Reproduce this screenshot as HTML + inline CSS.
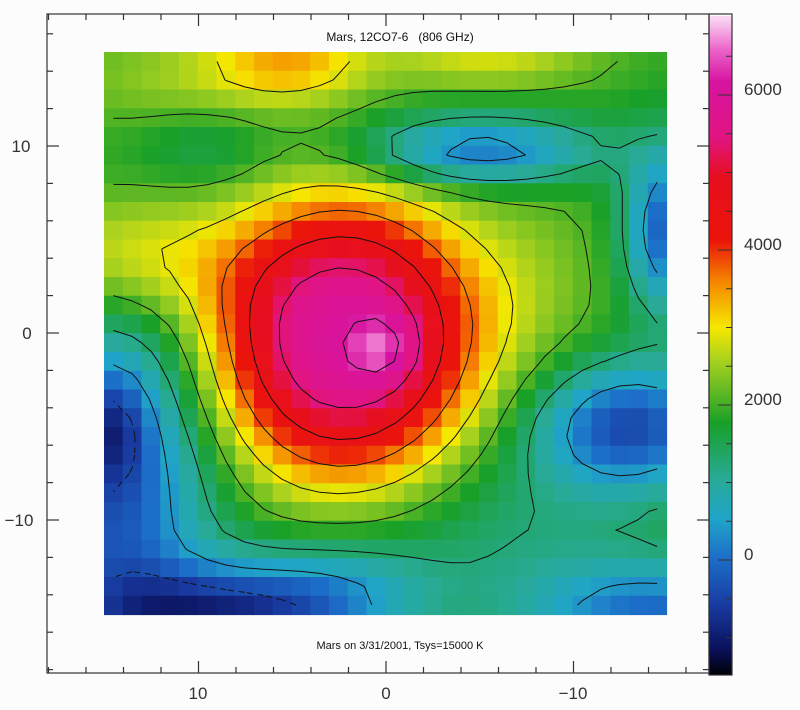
<!DOCTYPE html>
<html><head><meta charset="utf-8"><style>
body{margin:0;background:#fcfcfc;}
svg{display:block;font-family:"Liberation Sans",sans-serif;}
</style></head><body>
<svg id="s" width="800" height="710" xmlns="http://www.w3.org/2000/svg">
<rect width="800" height="710" fill="#fcfcfc"/>
<g id="heat"></g><g id="cont" fill="none" stroke="#111" stroke-width="1"></g>
<g id="cbar"></g>
<g id="axes" stroke="#333" stroke-width="1.2" fill="none"></g>
<text x="400" y="41" font-size="12" text-anchor="middle" fill="#111">Mars, 12CO7-6 &#160; (806 GHz)</text>
<text x="400" y="649" font-size="11" text-anchor="middle" fill="#111">Mars on 3/31/2001, Tsys=15000 K</text>
<g font-size="17" fill="#333" text-anchor="middle">
<text x="198" y="699">10</text><text x="386" y="699">0</text><text x="573" y="699">−10</text>
<text x="21" y="152">10</text><text x="27" y="339">0</text><text x="19" y="526">−10</text>
</g>
<g font-size="17" fill="#333">
<text x="744" y="95">6000</text><text x="744" y="250">4000</text><text x="744" y="405">2000</text><text x="744" y="560">0</text>
</g>
</svg>
<script>
const NS="http://www.w3.org/2000/svg";
function el(t,a,p){const e=document.createElementNS(NS,t);for(const k in a)e.setAttribute(k,a[k]);p.appendChild(e);return e;}
function g(u,v,cu,cv,su,sv){return Math.exp(-((u-cu)**2/(2*su*su)+(v-cv)**2/(2*sv*sv)));}
function F(u,v){
 let f=1800;
 const r2=((u-12.3)/7)**2+((v-14.8)/7.5)**2;
 f+=4000*Math.exp(-Math.pow(r2,1.3));
 f+=800*g(u,v,14.3,15.3,1.2,1.2);
 f-=2100*g(u,v,0,23,3.5,7);
 f-=900*g(u,v,0,19.5,1.2,2);
 f-=2200*g(u,v,6,29.5,5,1.8);
 f-=900*g(u,v,12,28,4,2);
 f-=2200*g(u,v,27.5,19.5,3.5,2.4);
 f-=2000*g(u,v,29.5,9,1.6,3);
 f-=1800*g(u,v,19.5,4.8,4.5,1.3);
 f-=1800*g(u,v,29,29.5,5,2);
 f-=500*g(u,v,22,25,5,3);
 f+=1200*g(u,v,9.5,0,3,1.5);
 f+=900*g(u,v,20,0,4,1);
 f+=600*g(u,v,4,1,5,2);
 f-=450*g(u,v,5,4.5,2.5,1.6);
 f+=1200*g(u,v,1,10.5,4,2.5);
 f+=500*g(u,v,22,12,3,4);
 return f;
}
const stops=[[-1500,[0,0,0]],[-1150,[10,16,90]],[-600,[24,58,160]],[0,[28,110,200]],[500,[32,165,200]],[1000,[40,170,150]],[1700,[24,160,40]],[2500,[170,210,30]],[2900,[245,232,0]],[3500,[245,130,0]],[4000,[235,20,10]],[4800,[230,15,30]],[5300,[225,20,130]],[6000,[215,20,160]],[6400,[235,100,200]],[6800,[250,215,245]]];
function col(v){if(v<=stops[0][0])return stops[0][1];for(let i=1;i<stops.length;i++){if(v<=stops[i][0]){const a=stops[i-1],b=stops[i],t=(v-a[0])/(b[0]-a[0]);return a[1].map((c,k)=>Math.round(c+(b[1][k]-c)*t));}}return stops[stops.length-1][1];}
const X0=104,Y0=52,C=18.75,N=30;
const heat=document.getElementById('heat');
const V=[];
for(let j=0;j<N;j++){V.push([]);for(let i=0;i<N;i++){const v=F(i,j);V[j].push(v);const c=col(v);
 el('rect',{x:(X0+i*C).toFixed(2),y:(Y0+j*C).toFixed(2),width:C+0.6,height:C+0.6,fill:`rgb(${c})`},heat);}}
const cont=document.getElementById('cont');
const levels=[-500,400,1200,2000,2800,3600,4400,5200,6000];
for(const L of levels){let d="";
 for(let j=0;j<N-1;j++)for(let i=0;i<N-1;i++){
  const p=[[i,j,V[j][i]],[i+1,j,V[j][i+1]],[i+1,j+1,V[j+1][i+1]],[i,j+1,V[j+1][i]]];
  const pts=[];
  for(let k=0;k<4;k++){const a=p[k],b=p[(k+1)%4];if((a[2]<L)!==(b[2]<L)){const t=(L-a[2])/(b[2]-a[2]);pts.push([a[0]+(b[0]-a[0])*t,a[1]+(b[1]-a[1])*t]);}}
  const P=q=>`${(X0+(q[0]+0.5)*C).toFixed(1)},${(Y0+(q[1]+0.5)*C).toFixed(1)}`;
  for(let k=0;k+1<pts.length;k+=2)d+=`M${P(pts[k])}L${P(pts[k+1])}`;
 }
 const a={d:d};if(L<0)a['stroke-dasharray']='6,5';el('path',a,cont);}
const cb=document.getElementById('cbar');
const cTop=16,cBot=675;
for(let y=cTop;y<cBot;y++){const v=6820-(y-cTop)*(8300/(cBot-cTop));el('rect',{x:709,y:y,width:23,height:1.2,fill:`rgb(${col(v)})`},cb);}
el('rect',{x:709,y:14,width:23,height:661,fill:'none',stroke:'#333','stroke-width':1.2},cb);
for(let v=-1000;v<=6500;v+=500){const y=560-v*0.0775;el('line',{x1:732,y1:y,x2:v%2000==0?718:726,y2:y,stroke:'#333'},cb);}
const ax=document.getElementById('axes');
el('rect',{x:47,y:14,width:662,height:659},ax);
for(let v=-16;v<=18;v+=2){const x=386-18.75*v;const L=v%10==0?12:6;
 el('line',{x1:x,y1:673,x2:x,y2:673-L},ax);el('line',{x1:x,y1:14,x2:x,y2:14+L},ax);}
for(let v=-18;v<=16;v+=2){const y=333-18.7*v;const L=v%10==0?12:6;
 el('line',{x1:47,y1:y,x2:47+L,y2:y},ax);el('line',{x1:709,y1:y,x2:709-L,y2:y},ax);}
</script>
</body></html>
